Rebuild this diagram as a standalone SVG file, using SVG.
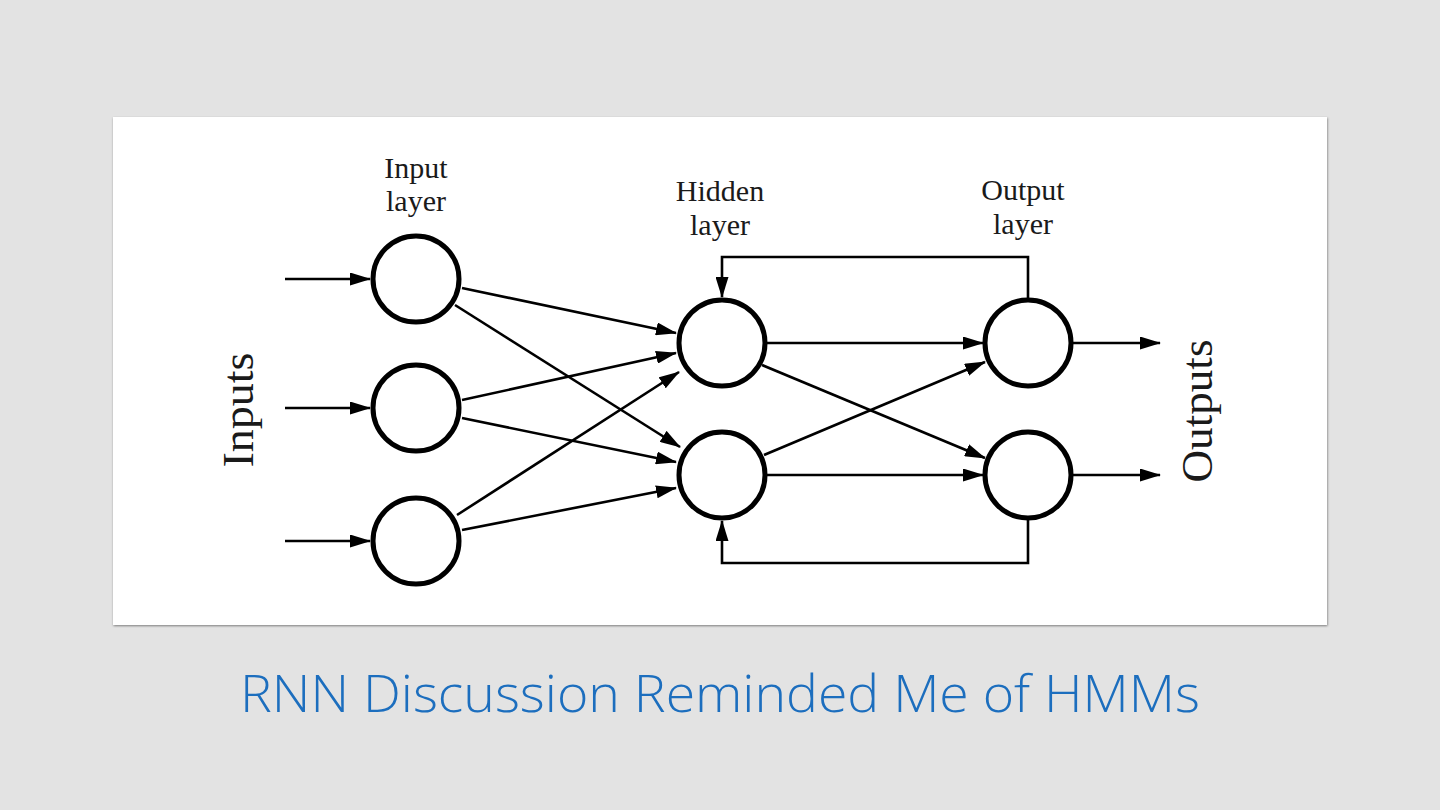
<svg xmlns="http://www.w3.org/2000/svg" width="1440" height="810" viewBox="0 0 1440 810">
<style>
.node{fill:#fff;stroke:#000;stroke-width:5}
.edge{fill:none;stroke:#000;stroke-width:2.6;marker-end:url(#ah)}
.lbl{font-family:"Liberation Serif","Times New Roman",serif;font-size:30px;fill:#1a1a1a;text-anchor:middle}
.big{font-family:"Liberation Serif","Times New Roman",serif;font-size:44px;fill:#1a1a1a;text-anchor:middle}
.title{font-family:"Open Sans","Lato",sans-serif;font-weight:300;font-size:52px;fill:#1C6EBE;text-anchor:middle}
</style>
<defs>
<marker id="ah" markerUnits="userSpaceOnUse" markerWidth="21" markerHeight="13" viewBox="0 0 21 13" refX="20" refY="6.5" orient="auto">
<path d="M0,0 L21,6.5 L0,13 z" fill="#000"/>
</marker>
<filter id="sh" x="-5%" y="-5%" width="110%" height="110%">
<feDropShadow dx="0.5" dy="1" stdDeviation="1.2" flood-color="#000" flood-opacity="0.45"/>
</filter>
<clipPath id="clip"><rect x="113" y="117" width="1214" height="470"/></clipPath>
</defs>
<rect width="1440" height="810" fill="#E3E3E3"/>
<rect id="panel" x="113" y="117" width="1214" height="508" fill="#fff" filter="url(#sh)"/>
<g clip-path="url(#clip)">
<g id="connectors">
<path class="edge" d="M285,279 L370,279"/>
<path class="edge" d="M285,408 L370,408"/>
<path class="edge" d="M285,541 L370,541"/>
<path class="edge" d="M462,288 L676,333"/>
<path class="edge" d="M455,305 L680,447"/>
<path class="edge" d="M462,400 L676,353"/>
<path class="edge" d="M462,418 L676,462"/>
<path class="edge" d="M457,515 L679,372"/>
<path class="edge" d="M462,530 L676,488"/>
<path class="edge" d="M767,343 L983,343"/>
<path class="edge" d="M762,365 L985,458"/>
<path class="edge" d="M764,455 L985,362"/>
<path class="edge" d="M767,475 L983,475"/>
<path class="edge" d="M1073,343 L1160,343"/>
<path class="edge" d="M1073,475 L1160,475"/>
<path class="edge" d="M1028,298 L1028,257 L722,257 L722,297"/>
<path class="edge" d="M1028,520 L1028,563 L722,563 L722,521"/>
</g>
<g id="input1"><circle class="node" cx="416" cy="279" r="43"/></g>
<g id="input2"><circle class="node" cx="416" cy="408" r="43"/></g>
<g id="input3"><circle class="node" cx="416" cy="541" r="43"/></g>
<g id="hidden1"><circle class="node" cx="722" cy="343" r="43"/></g>
<g id="hidden2"><circle class="node" cx="722" cy="475" r="43"/></g>
<g id="output1"><circle class="node" cx="1028" cy="343" r="43"/></g>
<g id="output2"><circle class="node" cx="1028" cy="475" r="43"/></g>
</g>
<g id="labels">
<text class="lbl" x="416" y="178">Input</text>
<text class="lbl" x="416" y="211">layer</text>
<text class="lbl" x="720" y="201">Hidden</text>
<text class="lbl" x="720" y="235">layer</text>
<text class="lbl" x="1023" y="200">Output</text>
<text class="lbl" x="1023" y="234">layer</text>
<text class="big" transform="translate(253,410) rotate(-90)" textLength="115" lengthAdjust="spacingAndGlyphs">Inputs</text>
<text class="big" transform="translate(1212,411) rotate(-90)" textLength="143" lengthAdjust="spacingAndGlyphs">Outputs</text>
</g>
<text id="title" class="title" x="720" y="712" textLength="960" lengthAdjust="spacingAndGlyphs">RNN Discussion Reminded Me of HMMs</text>
</svg>
